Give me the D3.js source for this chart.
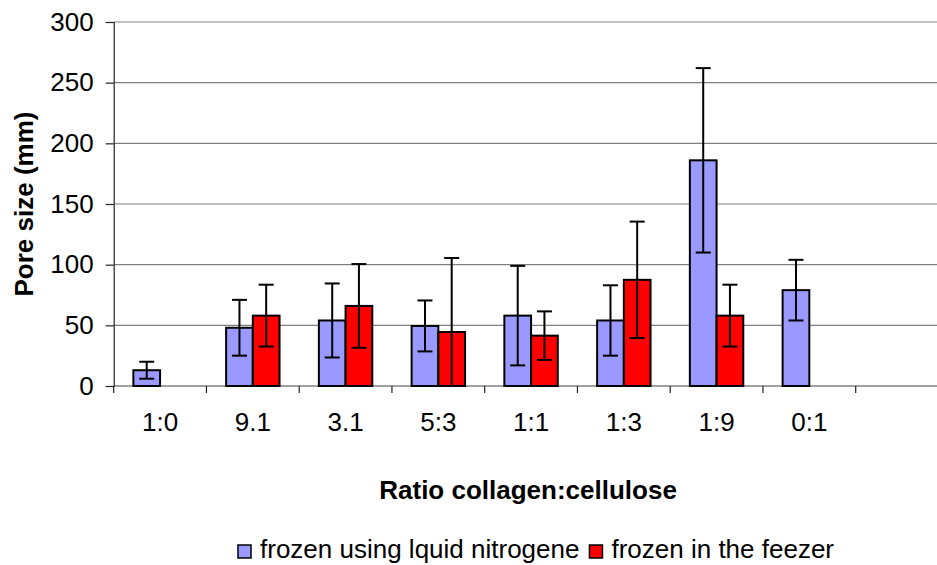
<!DOCTYPE html>
<html>
<head>
<meta charset="utf-8">
<script src="https://cdn.jsdelivr.net/npm/d3@7"></script>
<style>
  html, body { margin: 0; padding: 0; background: #fff; }
  svg { display: block; font-family: "Liberation Sans", Arial, sans-serif; }
</style>
</head>
<body>
<svg id="chart" width="937" height="565"></svg>
<script>
// ---- data ----
const categories = ["1:0", "9.1", "3.1", "5:3", "1:1", "1:3", "1:9", "0:1", ""];
const seriesNames = ["frozen using lquid nitrogene", "frozen in the feezer"];
const nitrogenValues = [13, 48, 54, 49.5, 58, 54, 186, 79, null];
const nitrogenErrors = [7, 23, 30.5, 21, 41, 29, 76, 25, null];
const freezerValues = [null, 58, 66, 44.5, 41.5, 87.5, 58, null, null];
const freezerErrors = [null, 25.5, 34.5, 61, 20, 48, 25.5, null, null];
const yTicks = [0, 50, 100, 150, 200, 250, 300];
const seriesColors = ["#9999FF", "#FF0000"];

(function () {
const svg = d3.select("#chart");
const pLeft = 113.7, pTop = 22, pBottom = 386, step = 92.75;
const pRight = pLeft + step * categories.length;

const x = d3.scaleBand().domain(categories).range([pLeft, pRight]).paddingInner(0.424).paddingOuter(0.212);
const xs = d3.scaleBand().domain([0, 1]).range([0, x.bandwidth()]);
const y = d3.scaleLinear().domain([0, 300]).range([pBottom, pTop]);

// gridlines
svg.append("g").selectAll("line").data(yTicks.filter(d => d > 0)).join("line")
  .attr("x1", pLeft).attr("x2", pRight)
  .attr("y1", d => y(d)).attr("y2", d => y(d))
  .attr("stroke", "#808080").attr("stroke-width", 1.2);

// y axis
const yAxis = svg.append("g").attr("transform", `translate(${pLeft},0)`)
  .call(d3.axisLeft(y).tickValues(yTicks).tickSize(8).tickPadding(12));
yAxis.select(".domain").attr("stroke", "#222").attr("stroke-width", 1.2);
yAxis.selectAll(".tick line").attr("stroke", "#222").attr("stroke-width", 1.2);
yAxis.selectAll("text").attr("font-size", 26).attr("fill", "#000")
  .attr("font-family", "Liberation Sans, Arial, sans-serif").attr("dy", "0.32em");

// x axis line + ticks at band boundaries
const xAxisG = svg.append("g");
xAxisG.append("line").attr("x1", pLeft).attr("x2", pRight).attr("y1", pBottom).attr("y2", pBottom)
  .attr("stroke", "#444").attr("stroke-width", 1.2);
const boundaries = categories.map((c, i) => pLeft + i * x.step());
xAxisG.selectAll("line.t").data(boundaries).join("line").attr("class", "t")
  .attr("x1", d => d).attr("x2", d => d).attr("y1", pBottom).attr("y2", pBottom + 7)
  .attr("stroke", "#222").attr("stroke-width", 1.2);
xAxisG.selectAll("text").data(categories).join("text")
  .attr("x", d => x(d) + x.bandwidth() / 2).attr("y", 431)
  .attr("text-anchor", "middle").attr("font-size", 26).text(d => d);

// bars
const series = [
  { values: nitrogenValues, errors: nitrogenErrors },
  { values: freezerValues, errors: freezerErrors }
];
series.forEach((s, si) => {
  const data = categories.map((c, i) => ({ c, v: s.values[i], e: s.errors[i] })).filter(d => d.v != null);
  const g = svg.append("g");
  g.selectAll("rect").data(data).join("rect")
    .attr("x", d => x(d.c) + xs(si)).attr("width", xs.bandwidth())
    .attr("y", d => y(d.v)).attr("height", d => y(0) - y(d.v))
    .attr("fill", seriesColors[si]).attr("stroke", "#000").attr("stroke-width", 2);
});
series.forEach((s, si) => {
  const data = categories.map((c, i) => ({ c, v: s.values[i], e: s.errors[i] })).filter(d => d.v != null);
  const g = svg.append("g").attr("stroke", "#000").attr("stroke-width", 2);
  data.forEach(d => {
    const cx = x(d.c) + xs(si) + xs.bandwidth() / 2;
    const hi = y(d.v + d.e), lo = y(Math.max(0, d.v - d.e));
    g.append("line").attr("x1", cx).attr("x2", cx).attr("y1", hi).attr("y2", lo);
    g.append("line").attr("x1", cx - 7.5).attr("x2", cx + 7.5).attr("y1", hi).attr("y2", hi);
    if (d.v - d.e > 0)
      g.append("line").attr("x1", cx - 7.5).attr("x2", cx + 7.5).attr("y1", lo).attr("y2", lo);
  });
});

// axis titles
svg.append("text").attr("x", (pLeft + pRight) / 2 - 3).attr("y", 499)
  .attr("text-anchor", "middle").attr("font-size", 26).attr("font-weight", "bold")
  .text("Ratio collagen:cellulose");
svg.append("text").attr("transform", `translate(33,${(pTop + pBottom) / 2}) rotate(-90)`)
  .attr("text-anchor", "middle").attr("font-size", 26).attr("font-weight", "bold")
  .text("Pore size (mm)");

// legend
const legend = svg.append("g");
let lx = 238;
seriesNames.forEach((name, i) => {
  legend.append("rect").attr("x", lx).attr("y", 545).attr("width", 13).attr("height", 13)
    .attr("fill", seriesColors[i]).attr("stroke", "#000").attr("stroke-width", 1.5);
  const t = legend.append("text").attr("x", lx + 22).attr("y", 557.5).attr("font-size", 26).text(name);
  lx = lx + 22 + t.node().getComputedTextLength() + 10;
});
})();
</script>
</body>
</html>
